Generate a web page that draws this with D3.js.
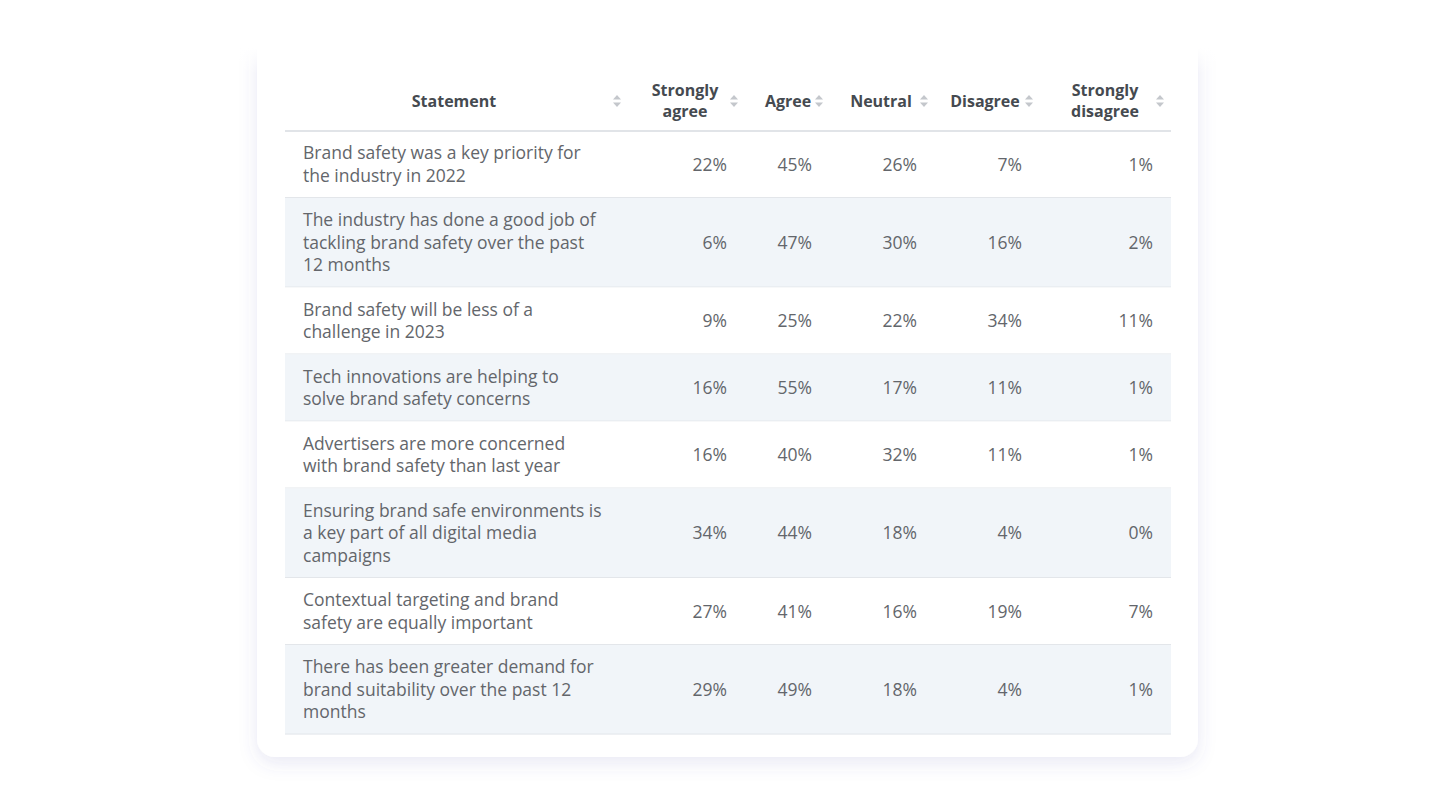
<!DOCTYPE html>
<html>
<head>
<meta charset="utf-8">
<script src="https://cdn.jsdelivr.net/npm/d3@7"></script>
<style>
  html, body { margin: 0; padding: 0; background: #fff; }
  svg { display: block; font-family: "Open Sans", sans-serif; }
</style>
</head>
<body>
<svg id="chart" width="1440" height="811"></svg>
<script>
// table data
const columns = ["Statement", "Strongly agree", "Agree", "Neutral", "Disagree", "Strongly disagree"];
const statements = [
  "Brand safety was a key priority for the industry in 2022",
  "The industry has done a good job of tackling brand safety over the past 12 months",
  "Brand safety will be less of a challenge in 2023",
  "Tech innovations are helping to solve brand safety concerns",
  "Advertisers are more concerned with brand safety than last year",
  "Ensuring brand safe environments is a key part of all digital media campaigns",
  "Contextual targeting and brand safety are equally important",
  "There has been greater demand for brand suitability over the past 12 months"
];
const stronglyAgree    = [22, 6, 9, 16, 16, 34, 27, 29];
const agree            = [45, 47, 25, 55, 40, 44, 41, 49];
const neutral          = [26, 30, 22, 17, 32, 18, 16, 18];
const disagree         = [7, 16, 34, 11, 11, 4, 19, 4];
const stronglyDisagree = [1, 2, 11, 1, 1, 0, 7, 1];

const valueSeries = [stronglyAgree, agree, neutral, disagree, stronglyDisagree];

// layout
const svg = d3.select("#chart");
const card = { x: 257, y: 10, w: 941, h: 747, r: 18 };
const tableLeft = 285, tableRight = 1171;
const headerBottom = 131;
const colEdges = [285, 628, 745, 830, 935, 1040, 1171];
const lineH = 22.5;
const bodySize = 17.5;
const wrapWidth = 300.5;

const defs = svg.append("defs");
const f = defs.append("filter").attr("id", "shadow")
  .attr("x", "-10%").attr("y", "-10%").attr("width", "120%").attr("height", "125%");
f.append("feDropShadow").attr("dx", 0).attr("dy", 6).attr("stdDeviation", 9)
  .attr("flood-color", "#5a4fb0").attr("flood-opacity", 0.13);

const fade = defs.append("linearGradient").attr("id", "fade")
  .attr("x1", 0).attr("y1", 0).attr("x2", 0).attr("y2", 1);
fade.append("stop").attr("offset", "0%").attr("stop-color", "#fff").attr("stop-opacity", 1);
fade.append("stop").attr("offset", "65%").attr("stop-color", "#fff").attr("stop-opacity", 1);
fade.append("stop").attr("offset", "100%").attr("stop-color", "#fff").attr("stop-opacity", 0);

svg.append("rect")
  .attr("x", card.x).attr("y", card.y).attr("width", card.w).attr("height", card.h)
  .attr("rx", card.r).attr("fill", "#fff").attr("filter", "url(#shadow)");

// the card top looks scrolled away, fade it out
svg.append("rect")
  .attr("x", card.x - 40).attr("y", 0).attr("width", card.w + 80).attr("height", 74)
  .attr("fill", "url(#fade)");

// wrap statements into lines using measured widths
const measure = svg.append("text").attr("font-size", bodySize).attr("visibility", "hidden");
function wrap(str) {
  const words = str.split(" ");
  const lines = [];
  let cur = "";
  words.forEach(w => {
    const test = cur ? cur + " " + w : w;
    measure.text(test);
    if (measure.node().getComputedTextLength() > wrapWidth && cur) {
      lines.push(cur);
      cur = w;
    } else {
      cur = test;
    }
  });
  if (cur) lines.push(cur);
  return lines;
}
const rows = statements.map((s, i) => ({
  lines: wrap(s),
  values: valueSeries.map(v => v[i])
}));
measure.remove();

// row heights from line count
const rowHeight = d3.scaleLinear().domain([0, 1]).range([22, 22 + lineH]);
let yCursor = headerBottom;
rows.forEach(r => {
  r.y0 = yCursor;
  r.h = rowHeight(r.lines.length);
  yCursor += r.h;
});

const g = svg.append("g");

// rows
const rowG = g.selectAll("g.row").data(rows).join("g").attr("class", "row");
rowG.append("rect")
  .attr("x", tableLeft).attr("width", tableRight - tableLeft)
  .attr("y", d => d.y0).attr("height", d => d.h)
  .attr("fill", (d, i) => i % 2 ? "#f1f5f9" : "#fff");
rowG.append("line")
  .attr("x1", tableLeft).attr("x2", tableRight)
  .attr("y1", d => d.y0 + d.h - 0.5).attr("y2", d => d.y0 + d.h - 0.5)
  .attr("stroke", "#e3e6ea").attr("stroke-width", 1);

rowG.each(function (d) {
  const gg = d3.select(this);
  const cy = d.y0 + d.h / 2;
  const first = cy - (d.lines.length - 1) * lineH / 2;
  const t = gg.append("text")
    .attr("font-size", bodySize).attr("fill", "#63666b");
  d.lines.forEach((ln, k) => {
    t.append("tspan").attr("x", 303).attr("y", first + k * lineH)
      .attr("dy", "0.35em").text(ln);
  });
  d.values.forEach((v, c) => {
    gg.append("text")
      .attr("x", colEdges[c + 2] - 18)
      .attr("y", cy).attr("dy", "0.35em")
      .attr("text-anchor", "end")
      .attr("font-size", bodySize).attr("fill", "#63666b")
      .text(v + "%");
  });
});

// header
const headY = 101;
const headGap = 20.5;
const headerLabel = [
  { lines: ["Statement"], cx: 454 },
  { lines: ["Strongly", "agree"], cx: 685 },
  { lines: ["Agree"], cx: 788 },
  { lines: ["Neutral"], cx: 881 },
  { lines: ["Disagree"], cx: 985 },
  { lines: ["Strongly", "disagree"], cx: 1105 }
];
headerLabel.forEach((h, i) => {
  h.name = columns[i];
  const first = headY - (h.lines.length - 1) * headGap / 2;
  h.lines.forEach((ln, k) => {
    g.append("text").attr("text-anchor", "middle")
      .attr("font-size", 16).attr("font-weight", 700).attr("fill", "#454a50")
      .attr("x", h.cx).attr("y", first + k * headGap).attr("dy", "0.35em").text(ln);
  });
  // sort icon
  const ix = colEdges[i + 1] - 11;
  g.append("path")
    .attr("d", `M${ix - 4},${headY - 1.5} L${ix + 4},${headY - 1.5} L${ix},${headY - 6} Z`)
    .attr("fill", "#c4c7cc");
  g.append("path")
    .attr("d", `M${ix - 4},${headY + 1.5} L${ix + 4},${headY + 1.5} L${ix},${headY + 6} Z`)
    .attr("fill", "#c4c7cc");
});

g.append("line")
  .attr("x1", tableLeft).attr("x2", tableRight)
  .attr("y1", headerBottom).attr("y2", headerBottom)
  .attr("stroke", "#e1e4e8").attr("stroke-width", 2);
</script>
</body>
</html>
